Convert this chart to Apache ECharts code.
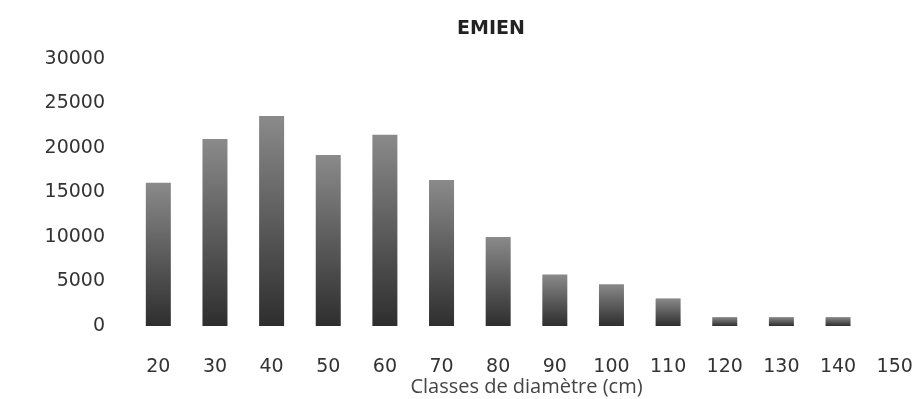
<!DOCTYPE html>
<html>
<head>
<meta charset="utf-8">
<script src="https://cdn.jsdelivr.net/npm/echarts@6/dist/echarts.min.js"></script>
<style>html,body{margin:0;padding:0;background:#fff}#c{width:921px;height:399px}</style>
</head>
<body>
<div id="c"></div>
<script>
var categories = ['20','30','40','50','60','70','80','90','100','110','120','130','140','150'];
var values = [16100, 21000, 23600, 19200, 21500, 16400, 10000, 5800, 4700, 3100, 1000, 1000, 1000, 0];
var yMin = 0, yMax = 30000, yStep = 5000;
var titleText = 'EMIEN';
var xAxisTitle = 'Classes de diamètre (cm)';

var chart = echarts.init(document.getElementById('c'), null, {renderer:'canvas'});
chart.setOption({
  animation: false,
  backgroundColor: '#ffffff',
  title: {
    text: titleText, left: 486, top: 15, textAlign: 'center',
    textStyle: {fontFamily: 'DejaVu Sans', fontWeight: 'bold', fontSize: 19, color: '#222'}
  },
  grid: {left: 130, top: 59, width: 793, bottom: 73, containLabel: false, outerBoundsMode: 'none'},
  xAxis: {
    type: 'category', data: categories,
    name: xAxisTitle, nameLocation: 'middle', nameGap: 51, nameMoveOverlap: false,
    nameTextStyle: {fontFamily: 'Open Sans', fontSize: 20, color: '#444'},
    axisLine: {show: false}, axisTick: {show: false},
    axisLabel: {margin: 32, fontFamily: 'DejaVu Sans', fontSize: 19, color: '#333', interval: 0}
  },
  yAxis: {
    type: 'value', min: yMin, max: yMax, interval: yStep,
    splitLine: {show: false}, axisLine: {show: false}, axisTick: {show: false},
    axisLabel: {margin: 25, fontFamily: 'DejaVu Sans', fontSize: 19, color: '#333',
      formatter: function (v) { return String(v); }}
  },
  series: [{
    type: 'bar', data: values, barWidth: 25,
    itemStyle: {
      color: new echarts.graphic.LinearGradient(0, 0, 0, 1, [
        {offset: 0, color: '#8a8a8a'},
        {offset: 1, color: '#2e2e2e'}
      ])
    }
  }]
});
</script>
</body>
</html>
